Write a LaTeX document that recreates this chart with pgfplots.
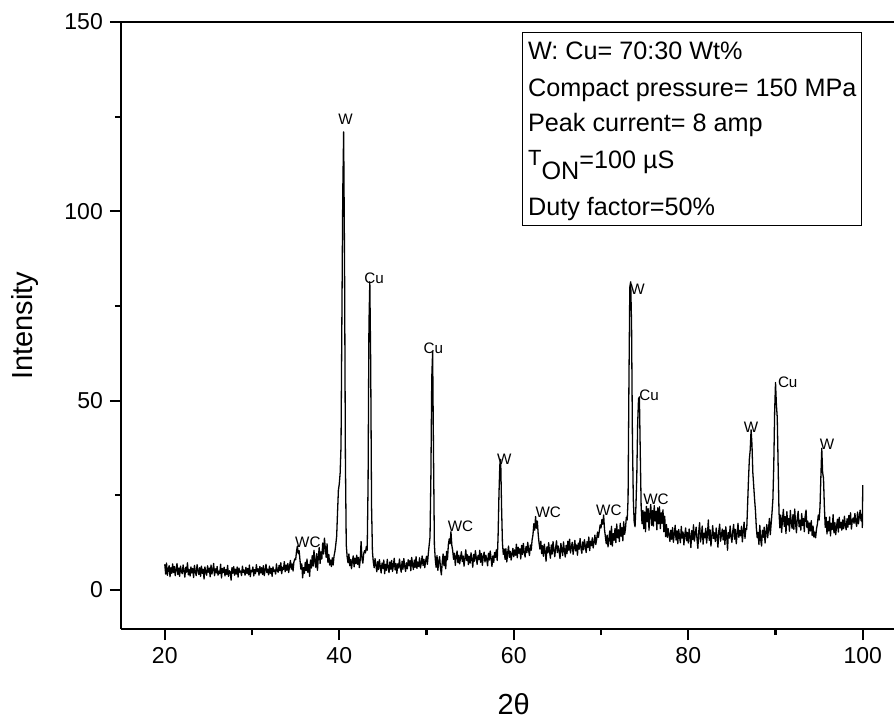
\documentclass[border=0pt]{standalone}
\usepackage{pgfplots}
\pgfplotsset{compat=1.18}
\usepackage{fontspec}
\setmainfont{Liberation Sans}
\begin{document}
\begin{tikzpicture}
\begin{axis}[
  scale only axis,
  width=386.55pt, height=303.5pt,
  xmin=14.97, xmax=103.58, ymin=-10.3, ymax=150,
  enlargelimits=false,
  axis x line*=box, axis y line*=left,
  axis line style={-, line width=1.2pt},
  xtick={20,40,60,80,100}, ytick={0,50,100,150},
  minor x tick num=1, minor y tick num=1,
  xtick pos=left, ytick pos=left,
  tick align=outside,
  major tick length=5.5pt, minor tick length=3pt,
  every tick/.style={line width=1.1pt, black},
  tick label style={font=\fontsize{11.5}{13}\selectfont},
  /pgf/number format/assume math mode=true,
  xlabel={2θ}, ylabel={Intensity},
  label style={font=\fontsize{14.5}{16}\selectfont},
  xlabel style={at={(axis description cs:0.508,-0.1236)}, anchor=center},
  ylabel style={at={(axis description cs:-0.1242,0.5)}, anchor=center},
  clip=false,
]
\addplot[black, line width=0.65pt, line join=round] coordinates {
(20.0,6.8)(20.1,4.2)(20.2,7.1)(20.3,3.9)(20.4,5.6)(20.5,6.4)(20.6,3.5)(20.7,5.9)(20.8,4.4)(20.9,6.9)
(21.0,4.6)(21.1,6.2)(21.2,3.8)(21.3,5.5)(21.4,7.0)(21.5,4.1)(21.6,5.8)(21.7,3.6)(21.8,6.3)(21.9,5.0)
(22.0,4.3)(22.1,6.6)(22.2,5.1)(22.3,3.4)(22.4,6.0)(22.5,4.7)(22.6,7.2)(22.7,4.0)(22.8,5.4)(22.9,3.7)
(23.0,6.1)(23.1,4.5)(23.2,5.7)(23.3,3.3)(23.4,6.5)(23.5,4.9)(23.6,3.8)(23.7,6.7)(23.8,5.2)(23.9,4.1)
(24.0,5.9)(24.1,3.6)(24.2,6.3)(24.3,4.4)(24.4,5.5)(24.5,2.9)(24.6,6.1)(24.7,4.8)(24.8,3.9)(24.9,6.4)
(25.0,4.7)(25.1,5.8)(25.2,3.5)(25.3,6.6)(25.4,4.2)(25.5,5.3)(25.6,7.0)(25.7,3.8)(25.8,5.6)(25.9,4.5)
(26.0,6.2)(26.1,3.9)(26.2,5.0)(26.3,4.3)(26.4,6.8)(26.5,3.2)(26.6,5.7)(26.7,4.6)(26.8,6.0)(26.9,3.7)
(27.0,5.4)(27.1,4.1)(27.2,6.5)(27.3,3.6)(27.4,5.1)(27.5,4.8)(27.6,2.6)(27.7,5.9)(27.8,4.4)(27.9,6.2)
(28.0,3.9)(28.1,5.5)(28.2,4.2)(28.3,6.1)(28.4,3.4)(28.5,5.8)(28.6,4.7)(28.7,5.0)(28.8,3.8)(28.9,6.3)
(29.0,4.6)(29.1,5.3)(29.2,3.9)(29.3,6.0)(29.4,4.4)(29.5,5.7)(29.6,4.0)(29.7,6.6)(29.8,3.5)(29.9,5.2)
(30.0,4.8)(30.1,6.1)(30.2,3.7)(30.3,5.4)(30.4,4.3)(30.5,6.7)(30.6,4.9)(30.7,5.6)(30.8,3.9)(30.9,6.2)
(31.0,4.5)(31.1,5.9)(31.2,4.1)(31.3,6.4)(31.4,3.8)(31.5,5.2)(31.6,6.8)(31.7,4.6)(31.8,5.5)(31.9,4.0)
(32.0,6.3)(32.1,4.4)(32.2,5.7)(32.3,3.6)(32.4,6.1)(32.5,4.9)(32.6,5.3)(32.7,4.2)(32.8,6.9)(32.9,5.0)
(33.0,4.7)(33.1,6.5)(33.2,5.1)(33.3,7.2)(33.4,4.3)(33.5,6.0)(33.6,5.4)(33.7,7.5)(33.8,4.8)(33.9,6.6)
(34.0,5.2)(34.1,7.0)(34.2,4.6)(34.3,6.3)(34.4,7.8)(34.5,5.5)(34.6,6.9)(34.7,5.0)(34.8,7.4)(34.9,8.2)
(35.0,8.0)(35.1,10.3)(35.2,11.6)(35.3,9.6)(35.4,10.4)(35.5,7.8)(35.6,5.5)(35.7,6.9)(35.8,3.2)(35.9,5.9)
(36.0,4.4)(36.1,7.3)(36.2,5.1)(36.3,8.2)(36.4,4.7)(36.5,6.8)(36.6,3.6)(36.7,7.9)(36.8,5.8)(36.9,9.1)
(37.0,6.3)(37.1,10.5)(37.2,7.4)(37.3,6.0)(37.4,9.6)(37.5,5.2)(37.6,8.8)(37.7,11.2)(37.8,7.0)(37.9,10.1)
(38.0,8.2)(38.1,12.4)(38.2,9.5)(38.3,13.7)(38.4,11.0)(38.5,8.6)(38.6,12.2)(38.7,7.3)(38.8,9.4)(38.9,6.6)
(39.0,7.9)(39.1,6.2)(39.2,8.5)(39.3,6.6)(39.4,9.0)(39.5,10.2)(39.6,12.0)(39.7,14.2)(39.8,20.5)(39.9,26.4)
(40.0,28.0)(40.1,30.9)(40.2,38.0)(40.3,72.0)(40.4,105.0)(40.5,121.0)(40.6,88.0)(40.7,35.0)(40.8,12.0)(40.9,8.8)
(41.0,7.2)(41.1,9.5)(41.2,6.4)(41.3,8.1)(41.4,5.6)(41.5,7.7)(41.6,9.0)(41.7,6.1)(41.8,8.4)(41.9,7.0)
(42.0,9.2)(42.1,6.8)(42.2,8.6)(42.3,5.9)(42.4,7.9)(42.5,12.8)(42.6,8.3)(42.7,7.1)(42.8,9.6)(42.9,10.4)
(43.0,9.8)(43.1,11.5)(43.2,10.5)(43.3,28.0)(43.4,70.0)(43.5,81.4)(43.6,60.0)(43.7,22.0)(43.8,10.2)(43.9,7.4)
(44.0,5.9)(44.1,8.3)(44.2,6.6)(44.3,4.8)(44.4,7.5)(44.5,5.4)(44.6,8.0)(44.7,6.2)(44.8,4.5)(44.9,7.1)
(45.0,5.7)(45.1,7.9)(45.2,4.3)(45.3,6.8)(45.4,5.2)(45.5,8.1)(45.6,6.0)(45.7,4.6)(45.8,7.4)(45.9,5.5)
(46.0,7.8)(46.1,4.9)(46.2,6.5)(46.3,8.4)(46.4,5.3)(46.5,7.0)(46.6,4.4)(46.7,6.9)(46.8,5.8)(46.9,8.2)
(47.0,6.1)(47.1,4.7)(47.2,7.6)(47.3,5.5)(47.4,8.3)(47.5,6.3)(47.6,4.9)(47.7,7.2)(47.8,5.6)(47.9,8.0)
(48.0,6.4)(48.1,7.8)(48.2,5.1)(48.3,8.6)(48.4,6.7)(48.5,5.4)(48.6,7.9)(48.7,6.0)(48.8,8.8)(48.9,5.7)
(49.0,7.4)(49.1,6.2)(49.2,8.5)(49.3,5.8)(49.4,7.1)(49.5,9.0)(49.6,6.5)(49.7,8.1)(49.8,5.9)(49.9,7.7)
(50.0,8.9)(50.1,6.8)(50.2,9.5)(50.3,11.8)(50.4,14.0)(50.5,30.0)(50.6,56.0)(50.7,63.0)(50.8,36.0)(50.9,12.0)
(51.0,8.2)(51.1,6.0)(51.2,9.1)(51.3,5.2)(51.4,7.6)(51.5,8.8)(51.6,5.8)(51.7,4.0)(51.8,7.3)(51.9,9.5)
(52.0,6.4)(52.1,8.9)(52.2,5.6)(52.3,10.2)(52.4,8.0)(52.5,11.9)(52.6,13.5)(52.7,12.2)(52.8,15.4)(52.9,11.8)
(53.0,10.4)(53.1,8.1)(53.2,9.7)(53.3,6.5)(53.4,8.8)(53.5,10.3)(53.6,7.2)(53.7,9.2)(53.8,6.9)(53.9,8.6)
(54.0,10.1)(54.1,7.5)(54.2,9.0)(54.3,6.3)(54.4,8.4)(54.5,10.6)(54.6,7.8)(54.7,9.3)(54.8,6.7)(54.9,8.9)
(55.0,7.1)(55.1,9.8)(55.2,8.2)(55.3,6.0)(55.4,9.4)(55.5,7.6)(55.6,10.4)(55.7,8.5)(55.8,6.8)(55.9,9.1)
(56.0,8.0)(56.1,10.5)(56.2,7.3)(56.3,9.6)(56.4,6.5)(56.5,8.7)(56.6,10.0)(56.7,7.4)(56.8,9.2)(56.9,8.1)
(57.0,6.4)(57.1,9.7)(57.2,7.9)(57.3,10.3)(57.4,8.4)(57.5,6.2)(57.6,9.0)(57.7,7.3)(57.8,9.9)(57.9,8.6)
(58.0,10.6)(58.1,7.8)(58.2,14.0)(58.3,25.0)(58.4,33.0)(58.5,34.5)(58.6,22.0)(58.7,12.5)(58.8,9.4)(58.9,10.8)
(59.0,8.1)(59.1,10.9)(59.2,7.4)(59.3,9.8)(59.4,11.6)(59.5,8.6)(59.6,10.2)(59.7,7.9)(59.8,9.5)(59.9,11.0)
(60.0,8.8)(60.1,10.6)(60.2,9.2)(60.3,12.1)(60.4,8.5)(60.5,11.3)(60.6,9.7)(60.7,10.9)(60.8,8.2)(60.9,11.8)
(61.0,9.4)(61.1,12.3)(61.2,10.0)(61.3,8.7)(61.4,11.5)(61.5,9.9)(61.6,12.6)(61.7,10.4)(61.8,9.1)(61.9,11.9)
(62.0,10.5)(62.1,13.2)(62.2,14.6)(62.3,17.5)(62.4,15.8)(62.5,19.4)(62.6,16.3)(62.7,18.2)(62.8,14.7)(62.9,12.4)
(63.0,10.8)(63.1,12.9)(63.2,9.6)(63.3,11.7)(63.4,8.9)(63.5,12.1)(63.6,10.3)(63.7,7.6)(63.8,11.4)(63.9,9.8)
(64.0,12.5)(64.1,10.1)(64.2,8.4)(64.3,11.9)(64.4,9.5)(64.5,12.8)(64.6,10.6)(64.7,8.8)(64.8,11.2)(64.9,13.0)
(65.0,9.9)(65.1,11.6)(65.2,10.2)(65.3,8.3)(65.4,12.3)(65.5,10.7)(65.6,9.1)(65.7,12.7)(65.8,10.4)(65.9,8.7)
(66.0,11.8)(66.1,9.6)(66.2,12.9)(66.3,10.5)(66.4,13.4)(66.5,9.8)(66.6,11.3)(66.7,12.6)(66.8,9.4)(66.9,11.1)
(67.0,13.1)(67.1,10.3)(67.2,11.9)(67.3,9.2)(67.4,12.4)(67.5,10.8)(67.6,13.6)(67.7,11.0)(67.8,9.7)(67.9,12.7)
(68.0,10.6)(68.1,13.3)(68.2,11.5)(68.3,9.9)(68.4,12.8)(68.5,11.2)(68.6,14.0)(68.7,10.4)(68.8,12.9)(68.9,11.7)
(69.0,13.8)(69.1,11.1)(69.2,12.6)(69.3,14.5)(69.4,12.0)(69.5,13.4)(69.6,15.3)(69.7,13.9)(69.8,15.5)(69.9,17.2)
(70.0,16.4)(70.1,18.6)(70.2,17.4)(70.3,19.8)(70.4,16.0)(70.5,14.1)(70.6,12.2)(70.7,14.5)(70.8,11.4)(70.9,13.3)
(71.0,15.6)(71.1,12.0)(71.2,16.8)(71.3,11.6)(71.4,14.9)(71.5,13.1)(71.6,16.2)(71.7,12.5)(71.8,17.4)(71.9,13.8)
(72.0,15.9)(72.1,12.8)(72.2,17.6)(72.3,14.2)(72.4,16.5)(72.5,13.0)(72.6,18.0)(72.7,14.7)(72.8,16.1)(72.9,19.2)
(73.0,18.5)(73.1,24.0)(73.2,55.0)(73.3,80.0)(73.4,81.4)(73.5,70.0)(73.6,40.0)(73.7,24.0)(73.8,18.0)(73.9,16.7)
(74.0,22.0)(74.1,30.0)(74.2,44.0)(74.3,50.5)(74.4,51.0)(74.5,36.0)(74.6,22.0)(74.7,17.5)(74.8,21.0)(74.9,16.2)
(75.0,20.6)(75.1,15.4)(75.2,22.1)(75.3,18.0)(75.4,21.5)(75.5,15.8)(75.6,20.3)(75.7,22.6)(75.8,17.1)(75.9,21.0)
(76.0,16.9)(76.1,22.3)(76.2,18.2)(76.3,20.8)(76.4,15.9)(76.5,21.7)(76.6,17.5)(76.7,22.0)(76.8,16.2)(76.9,20.4)
(77.0,17.6)(77.1,21.2)(77.2,15.4)(77.3,19.5)(77.4,14.1)(77.5,17.3)(77.6,13.9)(77.7,16.2)(77.8,14.5)(77.9,12.8)
(78.0,15.8)(78.1,13.4)(78.2,16.5)(78.3,12.6)(78.4,14.9)(78.5,17.1)(78.6,13.2)(78.7,15.6)(78.8,12.2)(78.9,16.0)
(79.0,14.1)(79.1,12.5)(79.2,16.8)(79.3,13.7)(79.4,15.3)(79.5,11.9)(79.6,14.6)(79.7,16.4)(79.8,13.0)(79.9,15.2)
(80.0,12.4)(80.1,16.1)(80.2,14.0)(80.3,11.2)(80.4,15.7)(80.5,13.3)(80.6,17.2)(80.7,12.9)(80.8,14.8)(80.9,16.6)
(81.0,13.5)(81.1,11.0)(81.2,15.4)(81.3,17.8)(81.4,12.7)(81.5,14.3)(81.6,16.9)(81.7,12.1)(81.8,15.0)(81.9,13.8)
(82.0,16.3)(82.1,12.4)(82.2,14.7)(82.3,18.5)(82.4,13.1)(82.5,15.9)(82.6,11.6)(82.7,14.2)(82.8,17.0)(82.9,13.6)
(83.0,15.1)(83.1,12.8)(83.2,16.4)(83.3,14.0)(83.4,11.3)(83.5,15.6)(83.6,17.4)(83.7,12.9)(83.8,14.5)(83.9,16.1)
(84.0,13.2)(84.1,15.8)(84.2,12.0)(84.3,16.7)(84.4,14.4)(84.5,10.5)(84.6,15.2)(84.7,13.7)(84.8,16.9)(84.9,14.1)
(85.0,12.6)(85.1,15.5)(85.2,17.3)(85.3,13.4)(85.4,16.0)(85.5,12.2)(85.6,14.8)(85.7,17.6)(85.8,13.9)(85.9,15.7)
(86.0,14.3)(86.1,16.8)(86.2,12.7)(86.3,15.4)(86.4,17.9)(86.5,13.6)(86.6,16.2)(86.7,16.0)(86.8,22.5)(86.9,29.0)
(87.0,34.5)(87.1,37.0)(87.2,42.3)(87.3,38.5)(87.4,31.0)(87.5,27.5)(87.6,24.0)(87.7,21.0)(87.8,16.5)(87.9,13.8)
(88.0,15.2)(88.1,12.0)(88.2,17.1)(88.3,13.3)(88.4,11.6)(88.5,15.8)(88.6,13.9)(88.7,16.6)(88.8,12.4)(88.9,15.0)
(89.0,17.3)(89.1,13.8)(89.2,16.2)(89.3,18.9)(89.4,14.6)(89.5,17.5)(89.6,20.5)(89.7,24.0)(89.8,33.0)(89.9,47.0)
(90.0,54.8)(90.1,49.0)(90.2,45.5)(90.3,33.0)(90.4,20.5)(90.5,16.4)(90.6,19.8)(90.7,15.2)(90.8,18.6)(90.9,21.3)
(91.0,16.8)(91.1,19.4)(91.2,14.9)(91.3,20.7)(91.4,17.2)(91.5,18.9)(91.6,15.5)(91.7,21.0)(91.8,17.8)(91.9,16.3)
(92.0,19.9)(92.1,16.0)(92.2,21.4)(92.3,17.6)(92.4,15.1)(92.5,19.2)(92.6,20.8)(92.7,16.7)(92.8,18.4)(92.9,15.8)
(93.0,20.2)(93.1,17.0)(93.2,18.9)(93.3,15.4)(93.4,19.6)(93.5,21.1)(93.6,16.5)(93.7,18.2)(93.8,14.9)(93.9,17.7)
(94.0,15.6)(94.1,18.3)(94.2,14.4)(94.3,16.9)(94.4,14.0)(94.5,15.3)(94.6,13.8)(94.7,16.2)(94.8,17.4)(94.9,19.8)
(95.0,18.5)(95.1,22.0)(95.2,30.0)(95.3,37.4)(95.4,31.0)(95.5,29.5)(95.6,22.0)(95.7,16.5)(95.8,19.2)(95.9,14.8)
(96.0,18.1)(96.1,15.6)(96.2,19.3)(96.3,14.3)(96.4,17.6)(96.5,16.0)(96.6,19.9)(96.7,15.1)(96.8,17.8)(96.9,14.6)
(97.0,16.9)(97.1,18.7)(97.2,15.3)(97.3,19.2)(97.4,16.4)(97.5,17.9)(97.6,15.8)(97.7,18.5)(97.8,16.2)(97.9,19.5)
(98.0,17.0)(98.1,15.9)(98.2,18.8)(98.3,16.6)(98.4,19.7)(98.5,17.3)(98.6,20.4)(98.7,16.1)(98.8,18.4)(98.9,19.0)
(99.0,17.6)(99.1,20.2)(99.2,18.0)(99.3,16.8)(99.4,20.6)(99.5,17.5)(99.6,19.3)(99.7,21.1)(99.8,18.3)(99.9,20.0)
(99.95,16.5)(100.0,27.7)
};
\begin{scope}[every node/.style={font=\fontsize{7.6}{9}\selectfont, inner sep=0pt, anchor=center}]
\node at (axis cs:36.4,12.7) {WC};
\node at (axis cs:40.73,124.3) {W};
\node at (axis cs:44.0,82.3) {Cu};
\node at (axis cs:50.77,63.8) {Cu};
\node at (axis cs:53.9,16.7) {WC};
\node at (axis cs:58.9,34.6) {W};
\node at (axis cs:63.95,20.5) {WC};
\node at (axis cs:70.9,21.1) {WC};
\node at (axis cs:74.2,79.4) {W};
\node at (axis cs:75.5,51.5) {Cu};
\node at (axis cs:76.3,24.0) {WC};
\node at (axis cs:87.2,43.0) {W};
\node at (axis cs:91.4,54.8) {Cu};
\node at (axis cs:95.9,38.6) {W};
\end{scope}
\end{axis}
\draw[line width=0.5pt] (200.9pt,201.85pt) rectangle (370.4pt,298.35pt);
\begin{scope}[every node/.style={font=\fontsize{12.6}{14}\selectfont, inner sep=0pt, anchor=base west}]
\node at (203.4pt,284.5pt) {W: Cu= 70:30 Wt\%};
\node at (203.4pt,266.15pt) {Compact pressure= 150 MPa};
\node at (203.4pt,248.65pt) {Peak current= 8 amp};
\node at (203.4pt,230.35pt) {\raisebox{1.4pt}{\fontsize{11}{12}\selectfont T}\raisebox{-5.8pt}{ON}=100 µS};
\node at (203.4pt,207pt) {Duty factor=50\%};
\end{scope}
\pgfresetboundingbox
\useasboundingbox (-60.45pt,-45pt) rectangle (386.55pt,314.5pt);
\end{tikzpicture}
\end{document}
